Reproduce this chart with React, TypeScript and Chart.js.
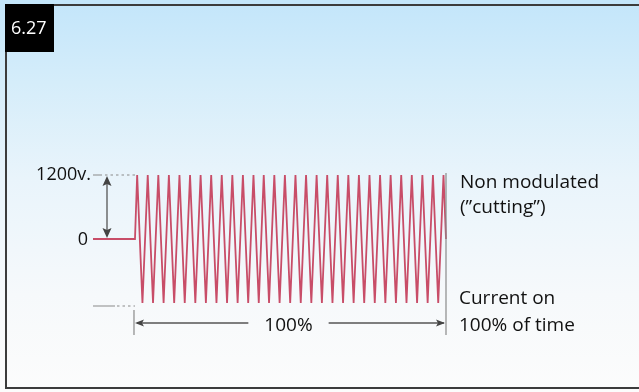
import React, { useEffect, useRef } from "react";
import { Chart, registerables } from "chart.js";

Chart.register(...registerables);

// ---------- data ----------
const figureLabel = "6.27";
const leadInTimes = [-13.5, 0]; // flat 0 V segment before the burst (% of time)
const peakTimes = [
  0.7, 4.1, 7.5, 10.9, 14.3, 17.7, 21.1, 24.5, 27.9, 31.3,
  34.7, 38.1, 41.4, 44.8, 48.2, 51.6, 55.0, 58.4, 61.8, 65.2,
  68.6, 72.0, 75.4, 78.8, 82.2, 85.6, 89.0, 92.4, 95.8, 99.2,
];
const troughTimes = [
  2.4, 5.8, 9.2, 12.6, 16.0, 19.4, 22.8, 26.2, 29.6, 33.0,
  36.4, 39.8, 43.1, 46.5, 49.9, 53.3, 56.7, 60.1, 63.5, 66.9,
  70.3, 73.7, 77.1, 80.5, 83.9, 87.3, 90.7, 94.1, 97.5,
];
const endTime = 100;
const peakVolts = 1200;
const troughVolts = -1200;
const zeroVolts = 0;
const yTickLabels = ["1200v.", "0"];
const spanLabel = "100%";
const rightTopLabels = ["Non modulated", "(\u201Dcutting\u201D)"];
const rightBottomLabels = ["Current on", "100% of time"];

const FONT = "'Open Sans', 'Noto Sans', sans-serif";

function buildPoints() {
  const pts: { x: number; y: number }[] = [];
  leadInTimes.forEach((t) => pts.push({ x: t, y: zeroVolts }));
  for (let i = 0; i < peakTimes.length; i++) {
    pts.push({ x: peakTimes[i], y: peakVolts });
    if (i < troughTimes.length) pts.push({ x: troughTimes[i], y: troughVolts });
  }
  pts.push({ x: endTime, y: zeroVolts });
  return pts;
}

function arrowHead(ctx: CanvasRenderingContext2D, x: number, y: number, dir: "up" | "down" | "left" | "right", L = 9, W = 3.5) {
  ctx.beginPath();
  if (dir === "up") { ctx.moveTo(x, y); ctx.lineTo(x - W, y + L); ctx.lineTo(x, y + L - 2); ctx.lineTo(x + W, y + L); }
  if (dir === "down") { ctx.moveTo(x, y); ctx.lineTo(x - W, y - L); ctx.lineTo(x, y - L + 2); ctx.lineTo(x + W, y - L); }
  if (dir === "left") { ctx.moveTo(x, y); ctx.lineTo(x + L, y - W); ctx.lineTo(x + L - 2, y); ctx.lineTo(x + L, y + W); }
  if (dir === "right") { ctx.moveTo(x, y); ctx.lineTo(x - L, y - W); ctx.lineTo(x - L + 2, y); ctx.lineTo(x - L, y + W); }
  ctx.closePath();
  ctx.fill();
}

const backgroundPlugin = {
  id: "bg",
  beforeDraw(chart: any) {
    const { ctx, width, height } = chart;
    ctx.save();
    const g = ctx.createLinearGradient(0, 5, 0, height);
    g.addColorStop(0, "#c4e6fa");
    g.addColorStop(0.2, "#d5edfa");
    g.addColorStop(0.45, "#e9f4fb");
    g.addColorStop(0.75, "#f6f9fb");
    g.addColorStop(1, "#fcfcfc");
    ctx.fillStyle = g;
    ctx.fillRect(0, 0, width, height);
    ctx.restore();
  },
};

const annotationPlugin = {
  id: "annotations",
  afterDraw(chart: any) {
    const { ctx } = chart;
    const xs = chart.scales.x;
    const ys = chart.scales.y;
    const xStart = xs.getPixelForValue(0);
    const xEnd = xs.getPixelForValue(endTime);
    const xLead = xs.getPixelForValue(leadInTimes[0]);
    const yTop = ys.getPixelForValue(peakVolts);
    const yZero = ys.getPixelForValue(zeroVolts);
    const yBot = ys.getPixelForValue(troughVolts) + 3;
    const yArrow = yBot + 17;

    ctx.save();
    // reference lines
    ctx.strokeStyle = "#8a8a8a";
    ctx.lineWidth = 1.2;
    ctx.beginPath();
    ctx.moveTo(xLead, yTop); ctx.lineTo(xLead + 9, yTop);
    ctx.moveTo(xLead, yBot); ctx.lineTo(xLead + 22, yBot);
    ctx.stroke();
    ctx.setLineDash([2.5, 3]);
    ctx.beginPath();
    ctx.moveTo(xLead + 12, yTop); ctx.lineTo(xStart, yTop);
    ctx.moveTo(xLead + 24, yBot); ctx.lineTo(xStart, yBot);
    ctx.stroke();
    ctx.setLineDash([]);

    // vertical double arrow (1200 v amplitude)
    ctx.strokeStyle = "#555";
    ctx.fillStyle = "#444";
    ctx.lineWidth = 1.3;
    const xa = xLead + 14;
    ctx.beginPath();
    ctx.moveTo(xa, yTop + 3); ctx.lineTo(xa, yZero - 3);
    ctx.stroke();
    arrowHead(ctx, xa, yTop + 1, "up", 10, 4.5);
    arrowHead(ctx, xa, yZero - 1, "down", 10, 4.5);

    // extent lines and 100% arrow
    ctx.strokeStyle = "#8a8a8a";
    ctx.lineWidth = 1.2;
    ctx.beginPath();
    ctx.moveTo(xStart - 1, yBot + 4); ctx.lineTo(xStart - 1, yArrow + 12);
    ctx.moveTo(xEnd, yTop - 2); ctx.lineTo(xEnd, yArrow + 12);
    ctx.stroke();

    ctx.font = `19px ${FONT}`;
    const midX = (xStart + xEnd) / 2 - 2;
    const tw = ctx.measureText(spanLabel).width;
    ctx.strokeStyle = "#555";
    ctx.lineWidth = 1.3;
    ctx.beginPath();
    ctx.moveTo(xStart + 2, yArrow); ctx.lineTo(midX - tw / 2 - 16, yArrow);
    ctx.moveTo(midX + tw / 2 + 16, yArrow); ctx.lineTo(xEnd - 2, yArrow);
    ctx.stroke();
    ctx.fillStyle = "#444";
    arrowHead(ctx, xStart, yArrow, "left");
    arrowHead(ctx, xEnd - 1, yArrow, "right");

    ctx.fillStyle = "#111";
    ctx.textAlign = "center";
    ctx.textBaseline = "alphabetic";
    ctx.fillText(spanLabel, midX, yArrow + 8);

    // y labels
    ctx.textAlign = "right";
    ctx.font = `18px ${FONT}`;
    ctx.fillText(yTickLabels[0], xLead - 2, yTop + 5);
    ctx.fillText(yTickLabels[1], xLead - 5, yZero + 6);

    // right labels
    ctx.textAlign = "left";
    ctx.font = `19px ${FONT}`;
    ctx.fillText(rightTopLabels[0], xEnd + 14, yTop + 13);
    ctx.fillText(rightTopLabels[1], xEnd + 14, yTop + 38);
    ctx.fillText(rightBottomLabels[0], xEnd + 13, yBot - 2);
    ctx.fillText(rightBottomLabels[1], xEnd + 13, yArrow + 8);

    // frame
    ctx.strokeStyle = "#3c3c3c";
    ctx.lineWidth = 2;
    ctx.beginPath();
    ctx.moveTo(chart.width + 5, 5);
    ctx.lineTo(6, 5);
    ctx.lineTo(6, 388);
    ctx.lineTo(chart.width + 5, 388);
    ctx.stroke();

    // figure number box
    ctx.fillStyle = "#000";
    ctx.fillRect(5, 4, 49, 48);
    ctx.fillStyle = "#fff";
    ctx.font = `18px ${FONT}`;
    ctx.textAlign = "left";
    ctx.fillText(figureLabel, 11, 34);
    ctx.restore();
  },
};

export default function App() {
  const ref = useRef<HTMLCanvasElement | null>(null);
  useEffect(() => {
    if (!ref.current) return;
    const chart = new Chart(ref.current, {
      type: "line",
      data: {
        datasets: [
          {
            data: buildPoints(),
            borderColor: "#c84d68",
            borderWidth: 1.8,
            pointRadius: 0,
            tension: 0,
            fill: false,
            clip: false as any,
          },
        ],
      },
      options: {
        responsive: false,
        maintainAspectRatio: false,
        animation: false,
        devicePixelRatio: 1,
        layout: { padding: { left: 93, right: 193, top: 175, bottom: 89 } },
        scales: {
          x: { type: "linear", min: leadInTimes[0], max: endTime, display: false },
          y: { type: "linear", min: troughVolts, max: peakVolts, display: false },
        },
        plugins: { legend: { display: false }, tooltip: { enabled: false }, title: { display: false } },
        events: [],
      },
      plugins: [backgroundPlugin, annotationPlugin],
    });
    return () => chart.destroy();
  }, []);
  return (
    <div style={{ position: "absolute", left: 0, top: 0, width: 639, height: 392 }}>
      <canvas ref={ref} width={639} height={392} style={{ display: "block", width: 639, height: 392 }} />
    </div>
  );
}
